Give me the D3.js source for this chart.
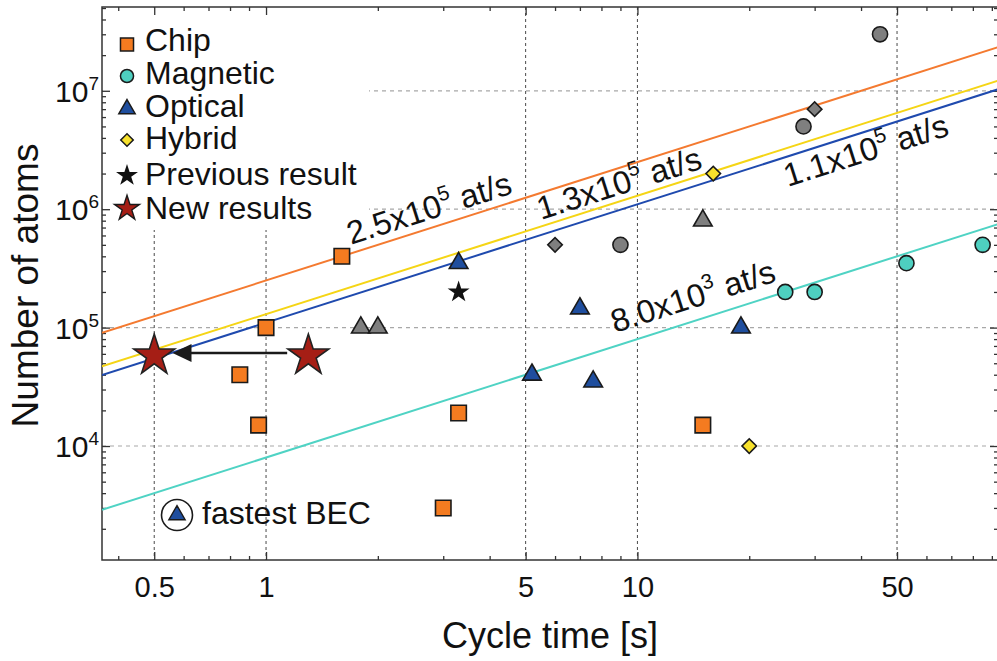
<!DOCTYPE html>
<html>
<head>
<meta charset="utf-8">
<script src="https://cdn.jsdelivr.net/npm/d3@7"></script>
<style>
  body { margin: 0; background: #fff; }
  svg { display: block; font-family: "Liberation Sans", Arial, Helvetica, sans-serif; }
</style>
</head>
<body>
<svg id="chart" width="997" height="661"></svg>
<script>
// cycle time [s] and number of atoms
var chipT = [0.85, 0.955, 1.0, 1.6, 3.0, 3.3, 15];
var chipN = [4e4, 1.5e4, 1e5, 4e5, 3e3, 1.9e4, 1.5e4];

var magneticT = [25, 30, 53, 85];
var magneticN = [2e5, 2e5, 3.5e5, 5e5];

var opticalT = [3.3, 5.2, 7.0, 7.6, 19];
var opticalN = [3.5e5, 4e4, 1.45e5, 3.5e4, 1e5];

var hybridT = [16, 20];
var hybridN = [2e6, 1e4];

var otherCircleT = [9, 28, 45];
var otherCircleN = [5e5, 5e6, 3e7];
var otherDiamondT = [6, 30];
var otherDiamondN = [5e5, 7e6];
var otherTriangleT = [1.8, 2.0, 15];
var otherTriangleN = [1e5, 1e5, 8e5];

var previousT = [3.3];
var previousN = [2e5];
var newT = [0.5, 1.3];
var newN = [5.8e4, 5.8e4];

// loading rate lines N = rate * t
var fitRates = [2.5e5, 1.3e5, 1.1e5, 8.0e3];
var fitMantissa = ["2.5", "1.3", "1.1", "8.0"];
var fitExponent = ["5", "5", "5", "3"];
var fitLabelT = [1.694, 5.50, 25.4, 8.70];
var fitLabelN = [5.0e5, 8.1e5, 1.54e6, 9.0e4];

var xMajor = [0.5, 1, 5, 10, 50];
var xMinor = [0.4, 0.6, 0.7, 0.8, 0.9, 2, 3, 4, 6, 7, 8, 9, 20, 30, 40, 60, 70, 80, 90];
var yMajor = [1e4, 1e5, 1e6, 1e7];
var yExp = ["4", "5", "6", "7"];
var yMinor = [];
[1e3, 1e4, 1e5, 1e6, 1e7].forEach(function(d) {
  for (var k = 2; k <= 9; k++) yMinor.push(d * k);
});

var legendNames = ["Chip", "Magnetic", "Optical", "Hybrid", "Previous result", "New results"];

var colors = {
  chip: "#F47B20", magnetic: "#4ECFC0", optical: "#1F4E9E", hybrid: "#F7E12C",
  other: "#7F7F7F", star: "#A51E15", black: "#111111"
};
var lineColors = ["#F47A30", "#F5D515", "#1F4AAE", "#4FD3C4"];

var plotL = 102, plotT = 7, plotR = 998, plotB = 560;

var x = d3.scaleLog().domain([0.3617, 93.5]).range([plotL, plotR]);
var y = d3.scaleLog().domain([1090, 5.1e7]).range([plotB, plotT]);

var svg = d3.select("#chart");

svg.append("defs").append("clipPath").attr("id", "plotclip")
  .append("rect").attr("x", plotL).attr("y", plotT)
  .attr("width", plotR - plotL).attr("height", plotB - plotT);

// grid
svg.append("g").selectAll("line").data(yMajor).enter().append("line")
  .attr("x1", plotL).attr("x2", plotR)
  .attr("y1", function(d) { return y(d); }).attr("y2", function(d) { return y(d); })
  .attr("stroke", "#a8a8a8").attr("stroke-width", 1.2).attr("stroke-dasharray", "4,4");

svg.append("g").selectAll("line").data(xMajor).enter().append("line")
  .attr("y1", plotT).attr("y2", plotB)
  .attr("x1", function(d) { return x(d); }).attr("x2", function(d) { return x(d); })
  .attr("stroke", "#4a4a4a").attr("stroke-width", 1).attr("stroke-dasharray", "3,3");

// white box behind the legend hides the grid
svg.append("rect").attr("x", plotL + 1).attr("y", plotT + 1)
  .attr("width", 266).attr("height", 222).attr("fill", "#fff");

// ticks (inward, on all four sides)
function noDomain(g) { g.select(".domain").remove(); g.selectAll("line").attr("stroke", "#333").attr("stroke-width", 1.3); }

var yMinorIn = yMinor.filter(function(d) { return d > 1090 && d < 5.1e7; });

svg.append("g").attr("transform", "translate(0," + plotB + ")")
  .call(d3.axisBottom(x).tickValues(xMajor).tickSize(-8).tickPadding(16).tickFormat(d3.format("")))
  .call(noDomain)
  .selectAll("text").attr("font-size", 29).attr("fill", "#111").attr("font-family", "Liberation Sans, Arial, sans-serif");
svg.append("g").attr("transform", "translate(0," + plotB + ")")
  .call(d3.axisBottom(x).tickValues(xMinor).tickSize(-4).tickFormat(""))
  .call(noDomain);
svg.append("g").attr("transform", "translate(0," + plotT + ")")
  .call(d3.axisTop(x).tickValues(xMajor).tickSize(-8).tickFormat(""))
  .call(noDomain);
svg.append("g").attr("transform", "translate(0," + plotT + ")")
  .call(d3.axisTop(x).tickValues(xMinor).tickSize(-4).tickFormat(""))
  .call(noDomain);

svg.append("g").attr("transform", "translate(" + plotL + ",0)")
  .call(d3.axisLeft(y).tickValues(yMajor).tickSize(-8).tickFormat(""))
  .call(noDomain);
svg.append("g").attr("transform", "translate(" + plotL + ",0)")
  .call(d3.axisLeft(y).tickValues(yMinorIn).tickSize(-4).tickFormat(""))
  .call(noDomain);
svg.append("g").attr("transform", "translate(" + plotR + ",0)")
  .call(d3.axisRight(y).tickValues(yMajor).tickSize(-8).tickFormat(""))
  .call(noDomain);
svg.append("g").attr("transform", "translate(" + plotR + ",0)")
  .call(d3.axisRight(y).tickValues(yMinorIn).tickSize(-4).tickFormat(""))
  .call(noDomain);

// y tick labels 10^n
var yLab = svg.append("g").selectAll("text").data(yMajor).enter().append("text")
  .attr("x", plotL - 3)
  .attr("y", function(d) { return y(d) + 11; })
  .attr("text-anchor", "end")
  .attr("font-size", 30)
  .attr("fill", "#111");
yLab.append("tspan").text("10");
yLab.append("tspan").attr("dy", -12).attr("font-size", 19)
  .text(function(d, i) { return yExp[i]; });

// frame
svg.append("rect").attr("x", plotL).attr("y", plotT)
  .attr("width", plotR - plotL).attr("height", plotB - plotT)
  .attr("fill", "none").attr("stroke", "#333").attr("stroke-width", 1.5);

// loading-rate lines
var plot = svg.append("g").attr("clip-path", "url(#plotclip)");
var tRange = x.domain();
fitRates.forEach(function(r, i) {
  plot.append("line")
    .attr("x1", x(tRange[0])).attr("y1", y(r * tRange[0]))
    .attr("x2", x(tRange[1])).attr("y2", y(r * tRange[1]))
    .attr("stroke", lineColors[i]).attr("stroke-width", 2);
});

var angle = Math.atan2(y(1e4) - y(1e5), x(10) - x(1)) * 180 / Math.PI;
fitRates.forEach(function(r, i) {
  var t = svg.append("text")
    .attr("transform", "translate(" + x(fitLabelT[i]) + "," + y(fitLabelN[i]) + ") rotate(" + (-angle) + ")")
    .attr("font-size", 32.5).attr("fill", "#111");
  t.append("tspan").text(fitMantissa[i] + "x10");
  t.append("tspan").attr("dy", -14).attr("font-size", 21).text(fitExponent[i]);
  t.append("tspan").attr("dy", 14).text(" at/s");
});

// markers
function symPath(type, size) { return d3.symbol().type(type).size(size)(); }

var series = [
  { t: chipT, n: chipN, type: d3.symbolSquare, size: 240, fill: colors.chip, rot: 0 },
  { t: magneticT, n: magneticN, type: d3.symbolCircle, size: 180, fill: colors.magnetic, rot: 0 },
  { t: otherCircleT, n: otherCircleN, type: d3.symbolCircle, size: 180, fill: colors.other, rot: 0 },
  { t: otherDiamondT, n: otherDiamondN, type: d3.symbolSquare, size: 105, fill: colors.other, rot: 45 },
  { t: hybridT, n: hybridN, type: d3.symbolSquare, size: 105, fill: colors.hybrid, rot: 45 },
  { t: otherTriangleT, n: otherTriangleN, type: d3.symbolTriangle, size: 150, fill: colors.other, rot: 0 },
  { t: opticalT, n: opticalN, type: d3.symbolTriangle, size: 150, fill: colors.optical, rot: 0 },
  { t: previousT, n: previousN, type: d3.symbolStar, size: 150, fill: colors.black, rot: 0 }
];

series.forEach(function(s) {
  svg.append("g").selectAll("path").data(s.t).enter().append("path")
    .attr("d", symPath(s.type, s.size))
    .attr("transform", function(d, i) { return "translate(" + x(d) + "," + y(s.n[i]) + ") rotate(" + s.rot + ")"; })
    .attr("fill", s.fill)
    .attr("stroke", "#1a1a1a")
    .attr("stroke-width", s.type === d3.symbolStar ? 0 : 1.6);
});

// arrow from old to new result
var arrowFromT = 1.14, arrowToT = 0.56, arrowN = 6.1e4;
svg.append("line")
  .attr("x1", x(arrowFromT)).attr("y1", y(arrowN))
  .attr("x2", x(arrowToT) + 16).attr("y2", y(arrowN))
  .attr("stroke", "#1a1a1a").attr("stroke-width", 2.6);
svg.append("path")
  .attr("d", "M" + x(arrowToT) + "," + y(arrowN) + "l19,-9l0,18z")
  .attr("fill", "#1a1a1a");

svg.append("g").selectAll("path").data(newT).enter().append("path")
  .attr("d", symPath(d3.symbolStar, 520))
  .attr("transform", function(d, i) { return "translate(" + x(d) + "," + y(newN[i]) + ")"; })
  .attr("fill", colors.star)
  .attr("stroke", "#222").attr("stroke-width", 1.6);

// legend
var legendShapes = [
  { type: d3.symbolSquare, size: 170, fill: colors.chip, rot: 0, sw: 1.5 },
  { type: d3.symbolCircle, size: 135, fill: colors.magnetic, rot: 0, sw: 1.5 },
  { type: d3.symbolTriangle, size: 115, fill: colors.optical, rot: 0, sw: 1.5 },
  { type: d3.symbolSquare, size: 78, fill: colors.hybrid, rot: 45, sw: 1.5 },
  { type: d3.symbolStar, size: 150, fill: colors.black, rot: 0, sw: 0 },
  { type: d3.symbolStar, size: 195, fill: colors.star, rot: 0, sw: 1.4 }
];
var legendMarkY = [44.5, 76, 109, 140, 175.5, 208.5];
var legendTextY = [51, 83.5, 116.5, 148.5, 185, 218.5];

var legend = svg.append("g").selectAll("g").data(legendNames).enter().append("g");
legend.append("path")
  .attr("d", function(d, i) { return symPath(legendShapes[i].type, legendShapes[i].size); })
  .attr("transform", function(d, i) { return "translate(127," + legendMarkY[i] + ") rotate(" + legendShapes[i].rot + ")"; })
  .attr("fill", function(d, i) { return legendShapes[i].fill; })
  .attr("stroke", "#1a1a1a")
  .attr("stroke-width", function(d, i) { return legendShapes[i].sw; });
legend.append("text")
  .attr("x", 145).attr("y", function(d, i) { return legendTextY[i]; })
  .attr("font-size", 32).attr("fill", "#111")
  .text(function(d) { return d; });

// "fastest BEC" key
svg.append("circle").attr("cx", 177).attr("cy", 515).attr("r", 15.5)
  .attr("fill", "#fff").attr("stroke", "#1a1a1a").attr("stroke-width", 1.6);
svg.append("path").attr("d", symPath(d3.symbolTriangle, 115))
  .attr("transform", "translate(177,515)")
  .attr("fill", colors.optical).attr("stroke", "#1a1a1a").attr("stroke-width", 1.4);
svg.append("text").attr("x", 202).attr("y", 523.5)
  .attr("font-size", 32).attr("fill", "#111").text("fastest BEC");

// axis titles
svg.append("text")
  .attr("transform", "translate(38," + ((plotT + plotB) / 2 + 2) + ") rotate(-90)")
  .attr("text-anchor", "middle")
  .attr("font-size", 37).attr("fill", "#111")
  .text("Number of atoms");
svg.append("text")
  .attr("x", (plotL + plotR) / 2).attr("y", 648)
  .attr("text-anchor", "middle")
  .attr("font-size", 36).attr("fill", "#111")
  .text("Cycle time [s]");
</script>
</body>
</html>
